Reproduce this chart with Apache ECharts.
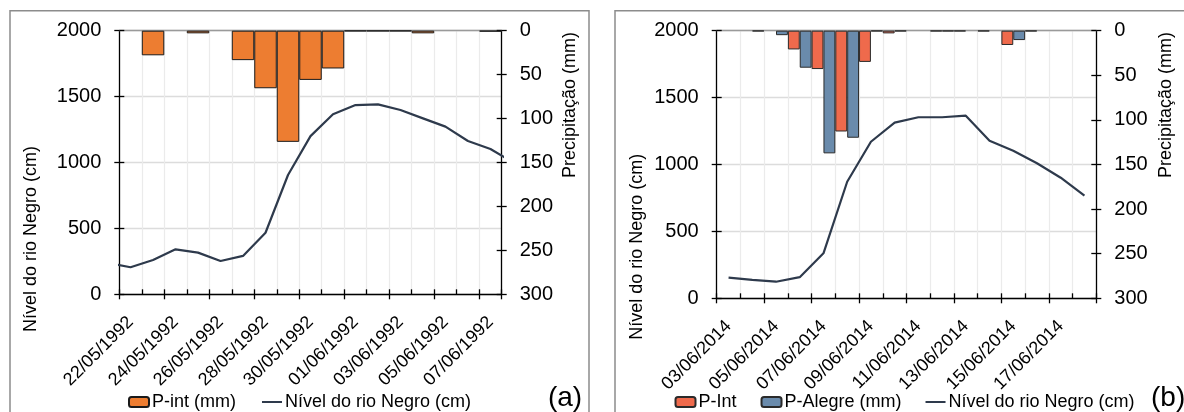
<!DOCTYPE html>
<html><head><meta charset="utf-8">
<script src="https://cdn.jsdelivr.net/npm/echarts@6/dist/echarts.min.js"></script>
<style>html,body{margin:0;padding:0;background:#fff}#c{width:1184px;height:412px}</style>
</head><body><div id="c"></div>
<script>
// ---------- Panel (a) ----------
const datesA = ['22/05/1992','23/05/1992','24/05/1992','25/05/1992','26/05/1992','27/05/1992','28/05/1992','29/05/1992','30/05/1992','31/05/1992','01/06/1992','02/06/1992','03/06/1992','04/06/1992','05/06/1992','06/06/1992','07/06/1992'];
const pIntA = [null, 28, null, 3, null, 33.5, 65.5, 126.5, 56, 43, 0.5, 0.5, 0.5, 3, null, null, 1];
// level readings from 21/05 to 08/06 (first/last lie just outside the plotted window)
const levelDatesA = ['21/05/1992','22/05/1992','23/05/1992','24/05/1992','25/05/1992','26/05/1992','27/05/1992','28/05/1992','29/05/1992','30/05/1992','31/05/1992','01/06/1992','02/06/1992','03/06/1992','04/06/1992','05/06/1992','06/06/1992','07/06/1992','08/06/1992'];
const levelA = [239, 205, 260, 341, 316, 253, 291, 467, 905, 1200, 1366, 1436, 1441, 1398, 1335, 1272, 1163, 1102, 1002];

// ---------- Panel (b) ----------
const datesB = ['03/06/2014','04/06/2014','05/06/2014','06/06/2014','07/06/2014','08/06/2014','09/06/2014','10/06/2014','11/06/2014','12/06/2014','13/06/2014','14/06/2014','15/06/2014','16/06/2014','17/06/2014','18/06/2014'];
const pIntB    = [null, null, null, 21, 43, 113, 35, 3, null, 0.6, 0.6, 0.6, 16, 0.6, null, null];
const pAlegreB = [null, 0.6, 5, 41.5, 137.5, 120, 0.6, 0.6, null, 0.6, null, null, 10.5, null, null, null];
const levelB   = [154, 138, 124, 158, 336, 871, 1170, 1313, 1353, 1353, 1365, 1178, 1103, 1009, 901, 767];

// ---------- tick labels ----------
const levelTicks = [0, 500, 1000, 1500, 2000];
const precipTicks = [0, 50, 100, 150, 200, 250, 300];

const FONT = "'Liberation Sans', Arial, sans-serif";
const LINE_COLOR = '#2E3A4C';
const LINE_ICON = 'path://M0,0L0.01,0L0,0.01Z M0,4H20V6H0Z M0,10L0.01,10L0,9.99Z';

function catAxes(grid, data) {
  return [
    { gridIndex: grid, type: 'category', data: data, boundaryGap: true, position: 'bottom',
      axisLine: { show: true, lineStyle: { color: '#000', width: 1.3 } },
      axisTick: { show: true, interval: 1, length: 5, lineStyle: { color: '#000', width: 1.3 } },
      axisLabel: { interval: 1, rotate: 45, fontSize: 18, fontFamily: FONT, color: '#000', margin: 25 },
      splitLine: { show: true, interval: 0, lineStyle: { color: '#EBEBEB', width: 1.2 } } },
    { gridIndex: grid, type: 'category', data: data, boundaryGap: true, position: 'bottom',
      axisLine: { show: false },
      axisTick: { show: true, inside: true, interval: 0, length: 5, lineStyle: { color: '#000', width: 1.3 } },
      axisLabel: { show: false }, splitLine: { show: false } },
    { gridIndex: grid, type: 'category', data: data, boundaryGap: true, position: 'top',
      axisLine: { show: true, lineStyle: { color: '#9A9A9A', width: 1.3 } },
      axisTick: { show: false }, axisLabel: { show: false }, splitLine: { show: false } }
  ];
}
function valAxes(grid) {
  const lv = { min: levelTicks[0], max: levelTicks[levelTicks.length - 1], interval: levelTicks[1] - levelTicks[0] };
  const pv = { min: precipTicks[0], max: precipTicks[precipTicks.length - 1], interval: precipTicks[1] - precipTicks[0] };
  const lbl = { fontSize: 20, fontFamily: FONT, color: '#000', margin: 18, formatter: v => String(v) };
  return [
    Object.assign({ gridIndex: grid, type: 'value', position: 'left',
      axisLine: { show: true, lineStyle: { color: '#000', width: 1.3 } },
      axisTick: { show: true, length: 5, lineStyle: { color: '#000', width: 1.3 } },
      axisLabel: lbl,
      splitLine: { show: true, lineStyle: { color: '#DCDCDC', width: 1.3 } } }, lv),
    Object.assign({ gridIndex: grid, type: 'value', position: 'left',
      axisLine: { show: false },
      axisTick: { show: true, inside: true, length: 5, lineStyle: { color: '#000', width: 1.3 } },
      axisLabel: { show: false }, splitLine: { show: false } }, lv),
    Object.assign({ gridIndex: grid, type: 'value', position: 'right', inverse: true,
      axisLine: { show: true, lineStyle: { color: '#000', width: 1.3 } },
      axisTick: { show: true, length: 5, lineStyle: { color: '#000', width: 1.3 } },
      axisLabel: lbl,
      splitLine: { show: false } }, pv),
    Object.assign({ gridIndex: grid, type: 'value', position: 'right', inverse: true,
      axisLine: { show: false },
      axisTick: { show: true, inside: true, length: 5, lineStyle: { color: '#000', width: 1.3 } },
      axisLabel: { show: false }, splitLine: { show: false } }, pv)
  ];
}

const xAxes = [].concat(
  catAxes(0, datesA),                                   // 0,1,2
  [{ gridIndex: 0, type: 'value', min: 0, max: datesA.length, show: false }], // 3 (line a)
  catAxes(1, datesB)                                    // 4,5,6
);
const yAxes = [].concat(valAxes(0), valAxes(1));        // 0-3 grid a, 4-7 grid b

const titleStyle = { fontSize: 18, fontFamily: FONT, fill: '#000', align: 'center', verticalAlign: 'middle' };
function vText(txt, x, y) {
  return { type: 'text', x: x, y: y, rotation: Math.PI / 2, z: 10,
    style: Object.assign({ text: txt }, titleStyle) };
}

const option = {
  backgroundColor: '#fff',
  animation: false,
  grid: [
    { left: 119.3, top: 30.7, width: 382.4, height: 263.6 },
    { left: 716.7, top: 30.7, width: 379.6, height: 267.6 }
  ],
  xAxis: xAxes,
  yAxis: yAxes,
  legend: [
    { data: ['P-int (mm)', { name: 'Nível do rio Negro (cm)', icon: LINE_ICON }], left: 128, top: 393, padding: 0,
      itemWidth: 20, itemHeight: 10, itemGap: 26, selectedMode: false,
      textStyle: { fontSize: 18, fontFamily: FONT, color: '#000', padding: [0, 0, 0, -2] } },
    { data: ['P-Int', 'P-Alegre (mm)', { name: 'Nível do rio Negro (cm)', icon: LINE_ICON }], left: 674.5, top: 393, padding: 0,
      itemWidth: 20, itemHeight: 10, itemGap: 24, selectedMode: false,
      textStyle: { fontSize: 18, fontFamily: FONT, color: '#000', padding: [0, 0, 0, -2] } }
  ],
  series: [
    { name: 'P-int (mm)', type: 'bar', xAxisIndex: 0, yAxisIndex: 2, data: pIntA,
      barCategoryGap: '0%', z: 3,
      itemStyle: { color: '#ED7D31', borderColor: '#1A1A1A', borderWidth: 1 } },
    { name: 'Nível do rio Negro (cm)', type: 'line', xAxisIndex: 3, yAxisIndex: 0,
      data: levelA.map((v, i) => [i - 0.5, v]), symbol: 'none', clip: true, z: 5,
      lineStyle: { color: LINE_COLOR, width: 2.2 }, itemStyle: { color: LINE_COLOR } },
    { name: 'P-Int', type: 'bar', xAxisIndex: 4, yAxisIndex: 6, data: pIntB,
      barGap: '0%', barCategoryGap: '0%', z: 3,
      itemStyle: { color: '#EF6A4C', borderColor: '#2A2A2A', borderWidth: 1 } },
    { name: 'P-Alegre (mm)', type: 'bar', xAxisIndex: 4, yAxisIndex: 6, data: pAlegreB,
      barGap: '0%', barCategoryGap: '0%', z: 3,
      itemStyle: { color: '#6A8BAC', borderColor: '#2A2A2A', borderWidth: 1 } },
    { name: 'Nível do rio Negro (cm)', type: 'line', xAxisIndex: 4, yAxisIndex: 4,
      data: levelB, symbol: 'none', z: 5,
      lineStyle: { color: LINE_COLOR, width: 2.2 }, itemStyle: { color: LINE_COLOR } }
  ],
  graphic: [
    { type: 'rect', shape: { x: 10, y: 10.7, width: 579, height: 450 }, z: -1,
      style: { fill: 'none', stroke: '#8C8C8C', lineWidth: 1.5 } },
    { type: 'rect', shape: { x: 615, y: 10.7, width: 600, height: 450 }, z: -1,
      style: { fill: 'none', stroke: '#8C8C8C', lineWidth: 1.5 } },
    vText('Nível do rio Negro (cm)', 31.5, 239),
    vText('Precipitação (mm)', 570, 105),
    vText('Nível do rio Negro (cm)', 636.7, 246.7),
    vText('Precipitação (mm)', 1165.7, 105),
    { type: 'text', x: 565, y: 398, z: 10,
      style: { text: '(a)', fontSize: 28, fontFamily: FONT, fill: '#000', align: 'center', verticalAlign: 'middle' } },
    { type: 'text', x: 1151, y: 398, z: 10,
      style: { text: '(b)', fontSize: 28, fontFamily: FONT, fill: '#000', align: 'left', verticalAlign: 'middle' } }
  ]
};
const chart = echarts.init(document.getElementById('c'), null, { renderer: 'canvas' });
chart.setOption(option);
</script>
</body></html>
